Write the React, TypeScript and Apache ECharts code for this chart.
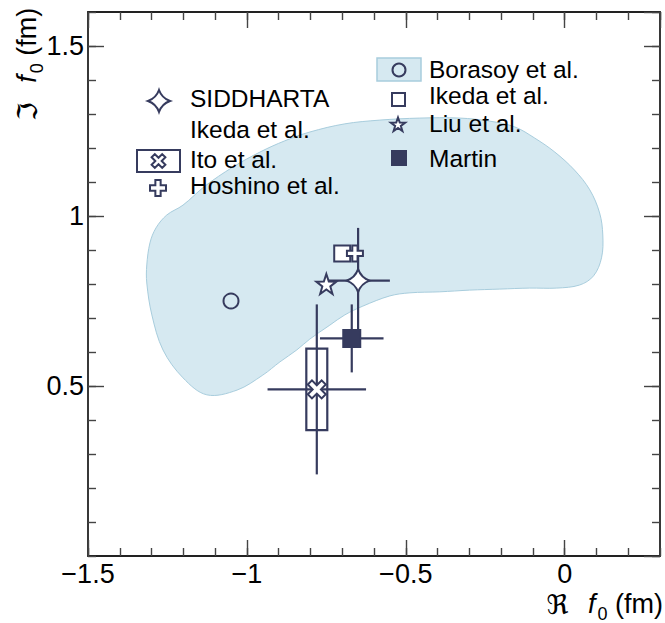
import React, { useEffect, useRef } from 'react';
import * as echarts from 'echarts';

// ---------------- data ----------------
const xMin = -1.5;
const xMax = 0.3;
const yMin = 0;
const yMax = 1.6;
const majorStep = 0.5;
const minorStep = 0.1;

// Borasoy et al. allowed region (contour)
const regionX = [-1.315, -1.315, -1.305, -1.286, -1.252, -1.201, -1.132, -1.044, -0.959, -0.881, -0.802, -0.692, -0.582, -0.456, -0.33, -0.236, -0.157, -0.094, -0.031, 0.031, 0.079, 0.11, 0.12, 0.116, 0.091, 0.047, -0.025, -0.11, -0.204, -0.299, -0.393, -0.487, -0.55, -0.635, -0.692, -0.739, -0.802, -0.843, -0.896, -0.95, -1.031, -1.126, -1.201, -1.264, -1.299];
const regionY = [0.803, 0.856, 0.921, 0.965, 1.003, 1.032, 1.088, 1.144, 1.188, 1.221, 1.247, 1.271, 1.282, 1.288, 1.288, 1.279, 1.262, 1.229, 1.188, 1.135, 1.077, 1.009, 0.944, 0.877, 0.824, 0.797, 0.788, 0.788, 0.785, 0.782, 0.777, 0.774, 0.765, 0.735, 0.709, 0.679, 0.638, 0.606, 0.571, 0.532, 0.488, 0.474, 0.524, 0.606, 0.709];

const borasoy = [-1.05, 0.75];
const siddharta = [-0.65, 0.81];
const siddhartaErr = [0.10, 0.155];
const ikeda = [-0.70, 0.89];
const hoshino = [-0.66, 0.89];
const liu = [-0.75, 0.80];
const martin = [-0.67, 0.64];
const martinErr = [0.10, 0.10];
const ito = [-0.78, 0.49];
const itoStatErr = [0.155, 0.25];
const itoSysErr = [0.033, 0.12];

const legendLeftLabels = ['SIDDHARTA', 'Ikeda et al.', 'Ito et al.', 'Hoshino et al.'];
const legendRightLabels = ['Borasoy et al.', 'Ikeda et al.', 'Liu et al.', 'Martin'];

// ---------------- styles ----------------
const NAVY = '#363b5e';
const REGION_FILL = '#d6e9f1';
const REGION_STROKE = '#a8cddd';
const FONT = '"Liberation Sans", Arial, Helvetica, sans-serif';

const STAR4 = 'M0,-10 Q2.6,-2.6 10,0 Q2.6,2.6 0,10 Q-2.6,2.6 -10,0 Q-2.6,-2.6 0,-10 Z';
const STAR5 = 'M0,-10 L2.351,-3.236 L9.511,-3.09 L3.804,1.236 L5.878,8.09 L0,4 L-5.878,8.09 L-3.804,1.236 L-9.511,-3.09 L-2.351,-3.236 Z';
const PLUS = 'M-3.3,-10 L3.3,-10 L3.3,-3.3 L10,-3.3 L10,3.3 L3.3,3.3 L3.3,10 L-3.3,10 L-3.3,3.3 L-10,3.3 L-10,-3.3 L-3.3,-3.3 Z';
const XCROSS = 'M4.95,-9.19 L9.19,-4.95 L4.24,0 L9.19,4.95 L4.95,9.19 L0,4.24 L-4.95,9.19 L-9.19,4.95 L-4.24,0 L-9.19,-4.95 L-4.95,-9.19 L0,-4.24 Z';

let registered = false;
function registerShapes() {
  if (registered) return;
  registered = true;
  echarts.graphic.registerShape('star4', echarts.graphic.extendPath(STAR4, {}));
  echarts.graphic.registerShape('star5', echarts.graphic.extendPath(STAR5, {}));
  echarts.graphic.registerShape('plusShape', echarts.graphic.extendPath(PLUS, {}));
  echarts.graphic.registerShape('xShape', echarts.graphic.extendPath(XCROSS, {}));
}

const fmt = (v: number) => {
  const r = Math.round(v * 1000) / 1000;
  if (Math.abs(r / majorStep - Math.round(r / majorStep)) > 1e-6) return '';
  if (r < 0) return '\u2212' + String(Math.abs(r));
  return String(r);
};

const axisLineStyle = { color: '#222', width: 1.8 };
const tickStyle = { color: '#444', width: 1.4 };

function makeX(position: string, major: boolean, labels: boolean) {
  return {
    type: 'value',
    min: xMin,
    max: xMax,
    interval: major ? majorStep : minorStep,
    position,
    axisLine: { show: major, onZero: false, lineStyle: axisLineStyle },
    axisTick: { show: true, inside: true, length: major ? 16 : 8, lineStyle: tickStyle },
    axisLabel: {
      show: labels,
      fontSize: 27,
      fontFamily: FONT,
      color: '#000',
      margin: 4,
      showMaxLabel: false,
      formatter: fmt,
    },
    splitLine: { show: false },
  };
}

function makeY(position: string, major: boolean, labels: boolean) {
  return {
    type: 'value',
    min: yMin,
    max: yMax,
    interval: major ? majorStep : minorStep,
    position,
    axisLine: { show: major, onZero: false, lineStyle: axisLineStyle },
    axisTick: { show: true, inside: true, length: major ? 16 : 8, lineStyle: tickStyle },
    axisLabel: {
      show: labels,
      fontSize: 27,
      fontFamily: FONT,
      color: '#000',
      margin: 4,
      showMinLabel: false,
      showMaxLabel: false,
      formatter: (v: number) => (v <= 0 || v > 1.55 ? '' : fmt(v)),
    },
    splitLine: { show: false },
  };
}

function scatter(name: string, pt: number[], symbol: string, size: number, fill: string, z = 5) {
  return {
    type: 'scatter',
    name,
    data: [pt],
    symbol,
    symbolSize: size,
    z,
    itemStyle: { color: fill, borderColor: NAVY, borderWidth: 2, opacity: 1 },
    emphasis: { disabled: true },
  };
}

const titleRich = {
  a: { fontSize: 27, fontFamily: '"DejaVu Sans", ' + FONT, color: '#000', padding: [0, 12, 0, 0] },
  t: { fontSize: 27, fontFamily: FONT, color: '#000' },
  f: { fontSize: 27, fontFamily: FONT, fontStyle: 'italic', color: '#000' },
  s: { fontSize: 18, fontFamily: FONT, color: '#000', padding: [20, 0, 0, 2] },
};

export default function App() {
  const ref = useRef<HTMLDivElement>(null);

  useEffect(() => {
    if (!ref.current) return;
    registerShapes();
    const chart = echarts.init(ref.current, null, { renderer: 'svg' });

    const legendText = (text: string, x: number, y: number) => ({
      type: 'text',
      x,
      y,
      z: 100,
      style: { text, fontSize: 24.5, fontFamily: FONT, fill: '#000', align: 'left', verticalAlign: 'middle' },
    });
    const shape = (type: string, x: number, y: number, size: number, fill: string) => ({
      type,
      x,
      y,
      scaleX: size / 20,
      scaleY: size / 20,
      z: 100,
      style: { fill, stroke: NAVY, lineWidth: 2, strokeNoScale: true },
    });

    const option: any = {
      animation: false,
      grid: { left: 88, right: 5, top: 12, bottom: 67, containLabel: false },
      xAxis: [makeX('bottom', true, true), makeX('bottom', false, false), makeX('top', true, false), makeX('top', false, false)],
      yAxis: [makeY('left', true, true), makeY('left', false, false), makeY('right', true, false), makeY('right', false, false)],
      series: [
        {
          type: 'custom',
          name: 'Borasoy region',
          data: [[regionX[0], regionY[0]]],
          z: 1,
          silent: true,
          renderItem: (_p: any, api: any) => {
            const pts = regionX.map((x, i) => api.coord([x, regionY[i]]));
            return {
              type: 'polygon',
              shape: { points: pts, smooth: 0.35 },
              style: { fill: REGION_FILL, stroke: REGION_STROKE, lineWidth: 1 },
            };
          },
        },
        {
          type: 'custom',
          name: 'error bars',
          data: [
            [siddharta[0], siddharta[1], siddhartaErr[0], siddhartaErr[1]],
            [martin[0], martin[1], martinErr[0], martinErr[1]],
            [ito[0], ito[1], itoStatErr[0], itoStatErr[1]],
          ],
          encode: { x: 0, y: 1 },
          z: 3,
          silent: true,
          renderItem: (_p: any, api: any) => {
            const x = api.value(0), y = api.value(1), ex = api.value(2), ey = api.value(3);
            const l = api.coord([x - ex, y]);
            const r = api.coord([x + ex, y]);
            const t = api.coord([x, y + ey]);
            const b = api.coord([x, y - ey]);
            const st = { stroke: NAVY, lineWidth: 2.2 };
            return {
              type: 'group',
              children: [
                { type: 'line', shape: { x1: l[0], y1: l[1], x2: r[0], y2: r[1] }, style: st },
                { type: 'line', shape: { x1: t[0], y1: t[1], x2: b[0], y2: b[1] }, style: st },
              ],
            };
          },
        },
        {
          type: 'custom',
          name: 'Ito systematic',
          data: [[ito[0], ito[1], itoSysErr[0], itoSysErr[1]]],
          encode: { x: 0, y: 1 },
          z: 3,
          silent: true,
          renderItem: (_p: any, api: any) => {
            const x = api.value(0), y = api.value(1), sx = api.value(2), sy = api.value(3);
            const tl = api.coord([x - sx, y + sy]);
            const br = api.coord([x + sx, y - sy]);
            return {
              type: 'rect',
              shape: { x: tl[0], y: tl[1], width: br[0] - tl[0], height: br[1] - tl[1] },
              style: { fill: 'none', stroke: NAVY, lineWidth: 2.2 },
            };
          },
        },
        scatter('Borasoy et al.', borasoy, 'circle', 15, 'rgba(0,0,0,0)'),
        scatter('Ikeda et al.', ikeda, 'rect', 16, '#ffffff'),
        scatter('Hoshino et al.', hoshino, 'path://' + PLUS, 16, '#ffffff', 6),
        scatter('Liu et al.', liu, 'path://' + STAR5, 20, '#ffffff'),
        scatter('Martin', martin, 'rect', 17, NAVY),
        scatter('Ito et al.', ito, 'path://' + XCROSS, 18, '#ffffff'),
        scatter('SIDDHARTA', siddharta, 'path://' + STAR4, 23, '#ffffff', 7),
      ],
      graphic: [
        // left legend
        shape('star4', 159, 101, 22, '#ffffff'),
        legendText(legendLeftLabels[0], 190, 98.5),
        legendText(legendLeftLabels[1], 190, 129),
        { type: 'rect', z: 100, shape: { x: 137, y: 150, width: 43, height: 22 }, style: { fill: '#ffffff', stroke: NAVY, lineWidth: 2 } },
        shape('xShape', 158.5, 161, 15, '#ffffff'),
        legendText(legendLeftLabels[2], 190, 159.5),
        shape('plusShape', 158, 188, 16, '#ffffff'),
        legendText(legendLeftLabels[3], 190, 185),
        // right legend
        { type: 'rect', z: 100, shape: { x: 377, y: 58, width: 44, height: 23 }, style: { fill: REGION_FILL, stroke: REGION_STROKE, lineWidth: 1.5 } },
        { type: 'circle', z: 101, shape: { cx: 399, cy: 70, r: 6.5 }, style: { fill: 'none', stroke: NAVY, lineWidth: 2 } },
        legendText(legendRightLabels[0], 429, 69),
        { type: 'rect', z: 100, shape: { x: 392, y: 93, width: 13, height: 13 }, style: { fill: '#ffffff', stroke: NAVY, lineWidth: 2 } },
        legendText(legendRightLabels[1], 429, 95),
        shape('star5', 398, 125, 15, '#ffffff'),
        legendText(legendRightLabels[2], 429, 123.5),
        { type: 'rect', z: 100, shape: { x: 391, y: 150, width: 16, height: 16 }, style: { fill: NAVY, stroke: NAVY, lineWidth: 0 } },
        legendText(legendRightLabels[3], 429, 158),
        // axis titles
        {
          type: 'text',
          x: 663,
          y: 604,
          z: 100,
          style: { text: '{a|\u211C}{t| }{f|f}{s|0}{t| (fm)}', rich: titleRich, align: 'right', verticalAlign: 'middle' },
        },
        {
          type: 'text',
          x: 27,
          y: 121,
          rotation: Math.PI / 2,
          z: 100,
          style: { text: '{a|\u2111}{t| }{f|f}{s|0}{t| (fm)}', rich: titleRich, align: 'left', verticalAlign: 'middle' },
        },
      ],
    };

    chart.setOption(option);
    return () => chart.dispose();
  }, []);

  return (
    <div
      ref={ref}
      style={{ position: 'fixed', left: 0, top: 0, width: 665, height: 623, background: '#ffffff' }}
    />
  );
}
